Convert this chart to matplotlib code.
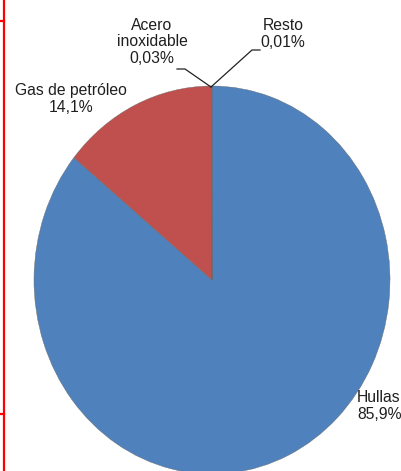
import matplotlib
matplotlib.use("Agg")
import matplotlib.pyplot as plt

categories = ["Hullas", "Gas de petróleo", "Acero\ninoxidable", "Resto"]
values = [85.9, 14.1, 0.03, 0.01]
decimals = [1, 1, 2, 2]
colors = ["#4F81BD", "#C0504D", "#9BBB59", "#8064A2"]

W, H = 402, 471
fig = plt.figure(figsize=(W / 100, H / 100), dpi=100)
plt.rcParams['font.family'] = ['Liberation Sans', 'DejaVu Sans']

# pie geometry (pixels)
cx, cy, rx, ry = 212, 280, 178, 194

ax = fig.add_axes([0, 0, 1, 1])
ax.pie(values, colors=colors, startangle=90, counterclock=False,
       radius=1, center=(0, 0), frame=True,
       wedgeprops=dict(linewidth=0.3, edgecolor="#6a6a6a", antialiased=True))
ax.set_aspect('auto')
ax.set_xlim(-cx / rx, (W - cx) / rx)
ax.set_ylim(-(H - cy) / ry, cy / ry)
ax.axis('off')

# overlay in pixel coordinates for labels/decoration
ov = fig.add_axes([0, 0, 1, 1], facecolor='none')
ov.set_xlim(0, W)
ov.set_ylim(H, 0)
ov.axis('off')

def fmt(v, d):
    return f"{v:.{d}f}".replace('.', ',') + "%"

labels = [f"{c}\n{fmt(v, d)}" for c, v, d in zip(categories, values, decimals)]
txtc = "#1f1f1f"
fs = 11.3
ls = 1.15
ov.text(357, 406, labels[0], ha='left', va='center', fontsize=fs, color=txtc, linespacing=ls)
ov.text(71, 99, labels[1], ha='center', va='center', fontsize=fs, color=txtc, linespacing=ls)
ov.text(152, 42, labels[2], ha='center', va='center', fontsize=fs, color=txtc, linespacing=ls)
ov.text(283, 34, labels[3], ha='center', va='center', fontsize=fs, color=txtc, linespacing=ls)

# leader lines
ov.plot([177, 185, 211], [69, 69, 87], color="#222222", lw=0.9)
ov.plot([211, 252, 260], [87, 50, 50], color="#222222", lw=0.9)

# red border decoration at left
ov.plot([4.5, 4.5], [0, H], color="red", lw=1.6)
ov.plot([0, 4.5], [21, 21], color="red", lw=1.6)
ov.plot([0, 4.5], [414, 414], color="red", lw=1.6)

fig.savefig("out.png", dpi=100)
